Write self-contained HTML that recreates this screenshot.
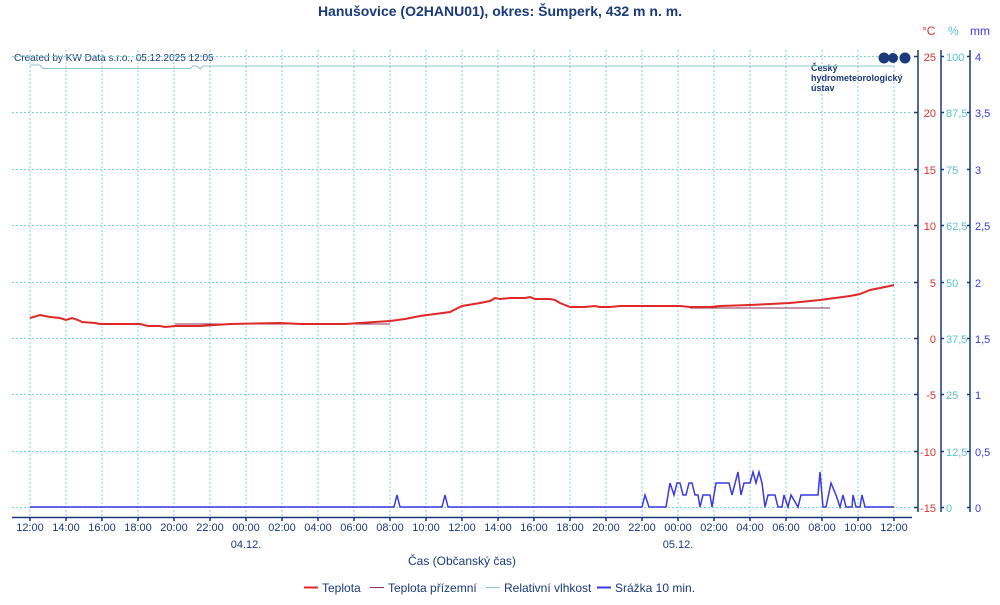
<!DOCTYPE html>
<html><head><meta charset="utf-8"><style>
body{margin:0;background:#fff;width:1000px;height:600px;overflow:hidden;font-family:"Liberation Sans",sans-serif}
</style></head><body>
<svg width="1000" height="600" xmlns="http://www.w3.org/2000/svg" font-family="Liberation Sans, sans-serif">
<text x="500" y="16" text-anchor="middle" font-size="14" font-weight="bold" fill="#1a3a7a">Hanušovice (O2HANU01), okres: Šumperk, 432 m n. m.</text>
<text x="14" y="61" font-size="10" fill="#1a3a7a">Created by KW Data s.r.o., 05.12.2025 12:05</text>
<text x="922" y="35" font-size="12" fill="#e03030">°C</text>
<text x="948" y="35" font-size="12" fill="#5bc0d0">%</text>
<text x="970" y="35" font-size="12" fill="#3a3ae0">mm</text>
<g stroke="#7fd3e0" stroke-dasharray="2,2" stroke-width="1">
<path d="M30 50V517M66 50V517M102 50V517M138 50V517M174 50V517M210 50V517M246 50V517M282 50V517M318 50V517M354 50V517M390 50V517M426 50V517M462 50V517M498 50V517M534 50V517M570 50V517M606 50V517M642 50V517M678 50V517M714 50V517M750 50V517M786 50V517M822 50V517M858 50V517M894 50V517"/>
<path d="M12 56.5H912M12 112.5H912M12 169.5H912M12 225.5H912M12 282.5H912M12 338.5H912M12 394.5H912M12 451.5H912M12 507.5H912"/>
</g>
<g stroke="#1a3a7a" stroke-width="1.5" fill="none">
<path d="M12 517.5H912"/><path d="M918 50V512M941 50V512M970 50V512"/>
<path d="M30 517v4M66 517v4M102 517v4M138 517v4M174 517v4M210 517v4M246 517v4M282 517v4M318 517v4M354 517v4M390 517v4M426 517v4M462 517v4M498 517v4M534 517v4M570 517v4M606 517v4M642 517v4M678 517v4M714 517v4M750 517v4M786 517v4M822 517v4M858 517v4M894 517v4"/>
<path d="M914 56.5h4M914 112.5h4M914 169.5h4M914 225.5h4M914 282.5h4M914 338.5h4M914 394.5h4M914 451.5h4M914 507.5h4"/>
<path d="M941 56.5h3M941 112.5h3M941 169.5h3M941 225.5h3M941 282.5h3M941 338.5h3M941 394.5h3M941 451.5h3M941 507.5h3"/>
<path d="M967 56.5h3M967 112.5h3M967 169.5h3M967 225.5h3M967 282.5h3M967 338.5h3M967 394.5h3M967 451.5h3M967 507.5h3"/>
</g>
<g font-size="11" fill="#e03030" text-anchor="end">
<text x="936" y="61">25</text><text x="936" y="117">20</text><text x="936" y="174">15</text><text x="936" y="230">10</text><text x="936" y="287">5</text><text x="936" y="343">0</text><text x="936" y="399">-5</text><text x="936" y="456">-10</text><text x="936" y="512">-15</text>
</g>
<g font-size="11" fill="#5bc0d0">
<text x="946" y="61">100</text><text x="946" y="117">87,5</text><text x="946" y="174">75</text><text x="946" y="230">62,5</text><text x="946" y="287">50</text><text x="946" y="343">37,5</text><text x="946" y="399">25</text><text x="946" y="456">12,5</text><text x="946" y="512">0</text>
</g>
<g font-size="11" fill="#3a3ae0">
<text x="975" y="61">4</text><text x="975" y="117">3,5</text><text x="975" y="174">3</text><text x="975" y="230">2,5</text><text x="975" y="287">2</text><text x="975" y="343">1,5</text><text x="975" y="399">1</text><text x="975" y="456">0,5</text><text x="975" y="512">0</text>
</g>
<g font-size="11" fill="#1a3a7a" text-anchor="middle">
<text x="30" y="531">12:00</text><text x="66" y="531">14:00</text><text x="102" y="531">16:00</text><text x="138" y="531">18:00</text><text x="174" y="531">20:00</text><text x="210" y="531">22:00</text><text x="246" y="531">00:00</text><text x="282" y="531">02:00</text><text x="318" y="531">04:00</text><text x="354" y="531">06:00</text><text x="390" y="531">08:00</text><text x="426" y="531">10:00</text><text x="462" y="531">12:00</text><text x="498" y="531">14:00</text><text x="534" y="531">16:00</text><text x="570" y="531">18:00</text><text x="606" y="531">20:00</text><text x="642" y="531">22:00</text><text x="678" y="531">00:00</text><text x="714" y="531">02:00</text><text x="750" y="531">04:00</text><text x="786" y="531">06:00</text><text x="822" y="531">08:00</text><text x="858" y="531">10:00</text><text x="894" y="531">12:00</text>
<text x="246" y="548">04.12.</text><text x="678" y="548">05.12.</text>
<text x="462" y="565" font-size="12">Čas (Občanský čas)</text>
</g>
<text x="811" y="71" font-size="9" font-weight="bold" fill="#1a3a7a">Český</text>
<text x="811" y="81" font-size="9" font-weight="bold" fill="#1a3a7a">hydrometeorologický</text>
<text x="811" y="91" font-size="9" font-weight="bold" fill="#1a3a7a">ústav</text>
<circle cx="884" cy="58" r="5.5" fill="#1a3a7a"/><circle cx="893" cy="58" r="5" fill="#1a3a7a"/><circle cx="905" cy="58" r="5.5" fill="#1a3a7a"/>
<path d="M30 65H40L43 68.5H190L193 66H197L200 69L203 66H894" stroke="#8cc4c8" fill="none" stroke-width="1"/>
<path d="M175 324H390M690 308H830" stroke="#8a3050" fill="none" stroke-width="1"/>
<path d="M30 318L40 315L50 317L60 318L66 320L72 318L78 320L82 322L95 323L100 324L140 324L148 326L160 326L165 327L175 326L200 326L230 324L280 323L300 324L340 324L345 324L375 322L390 321L405 319L420 316L435 314L450 312L462 306L480 303L490 301L495 298L500 299L510 298L525 298L530 297L535 299L550 299L555 300L560 303L570 307L585 307L595 306L600 307L610 307L620 306L650 306L680 306L690 307L710 307L720 306L750 305L770 304L790 303L800 302L820 300L835 298L850 296L860 294L870 290L880 288L890 286L894 285" stroke="#e02828" fill="none" stroke-width="2"/>
<path d="M30 507H394L397 495L400 507H442L445 495L448 507H642L645 495L649 507H666L670 483L674 495L677 483L680 483L683 495L686 495L689 483L692 483L695 495L698 495L700 507L703 495L710 495L712 507L716 483L729 483L732 495L738 472L741 495L744 483L750 483L753 472L756 483L759 472L762 483L765 507L768 495L775 495L778 507L782 507L784 495L788 507L791 495L798 507L801 495L818 495L820 472L823 507L826 507L831 483L836 495L840 507L843 495L846 507L852 507L853 495L856 507L860 507L862 495L865 507L894 507" stroke="#3a3ae0" fill="none" stroke-width="1.5"/>
<g font-size="12" fill="#1a3a7a">
<path d="M304 587.5h14" stroke="#e02828" stroke-width="2"/><text x="322" y="592">Teplota</text>
<path d="M370 587.5h14" stroke="#8a3050" stroke-width="1"/><text x="388" y="592">Teplota přízemní</text>
<path d="M486 587.5h14" stroke="#8cc4c8" stroke-width="1"/><text x="504" y="592">Relativní vlhkost</text>
<path d="M597 587.5h14" stroke="#3a3ae0" stroke-width="2"/><text x="615" y="592">Srážka 10 min.</text>
</g>
</svg>
</body></html>
